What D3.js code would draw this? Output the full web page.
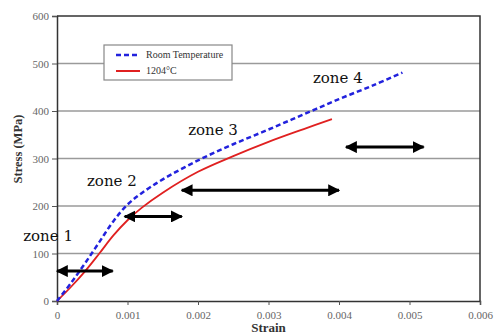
<!DOCTYPE html>
<html>
<head>
<meta charset="utf-8">
<script src="https://cdn.jsdelivr.net/npm/d3@7"></script>
<style>
  body { margin: 0; background: #fff; }
  svg { display: block; }
</style>
</head>
<body>
<div id="chart"></div>
<script>
"use strict";

// values
const roomStrain = [0, 0.0002, 0.0004, 0.0006, 0.0008, 0.001, 0.0012, 0.0015, 0.002, 0.0025, 0.003, 0.0035, 0.004, 0.0045, 0.0049];
const roomStress = [0, 38, 80, 124, 168, 203, 227, 256, 296, 330, 361, 393, 425, 455, 481];
const hotStrain  = [0, 0.0002, 0.0004, 0.0006, 0.0008, 0.001, 0.0012, 0.0015, 0.002, 0.0025, 0.003, 0.0035, 0.0039];
const hotStress  = [0, 30, 63, 100, 138, 170, 196, 228, 272, 305, 335, 362, 383];

const xTicks = [0, 0.001, 0.002, 0.003, 0.004, 0.005, 0.006];
const yTicks = [0, 100, 200, 300, 400, 500, 600];
const seriesNames = ["Room Temperature", "1204°C"];

// zone annotations: [strain, stress] of text start / arrow spans
const zoneLabels = ["zone 1", "zone 2", "zone 3", "zone 4"];
const zoneLabelAt = [[-0.00048, 126], [0.000425, 242], [0.00186, 349], [0.00363, 458]];
const arrowSpans = [[0, 0.00079, 63], [0.00096, 0.00177, 178], [0.00177, 0.004, 233], [0.0041, 0.0052, 324]];

const width = 494, height = 335;
const margin = { top: 16, right: 14, bottom: 34, left: 57 };

const svg = d3.select("#chart").append("svg")
    .attr("width", width)
    .attr("height", height);

const x = d3.scaleLinear().domain([0, 0.006]).range([margin.left, width - margin.right]);
const y = d3.scaleLinear().domain([0, 600]).range([height - margin.bottom, margin.top]);

const serif = "'Liberation Serif', 'Times New Roman', serif";

// grid lines
svg.append("g")
    .selectAll("line")
    .data(yTicks.slice(1, -1))
    .join("line")
    .attr("x1", x(0)).attr("x2", x(0.006))
    .attr("y1", d => y(d)).attr("y2", d => y(d))
    .attr("stroke", "#9a9a9a")
    .attr("stroke-width", 1.5);

// frame: top and right
svg.append("path")
    .attr("d", `M${x(0)},${y(600)}H${x(0.006)}V${y(0)}`)
    .attr("fill", "none")
    .attr("stroke", "#333")
    .attr("stroke-width", 1.5);

const xAxis = svg.append("g")
    .attr("transform", `translate(0,${y(0)})`)
    .call(d3.axisBottom(x).tickValues(xTicks).tickSize(4).tickPadding(6)
        .tickFormat(d => d === 0 ? "0" : d3.format(".3f")(d)));
const yAxis = svg.append("g")
    .attr("transform", `translate(${x(0)},0)`)
    .call(d3.axisLeft(y).tickValues(yTicks).tickSize(5).tickPadding(3));

[xAxis, yAxis].forEach(a => {
    a.select(".domain").attr("stroke", "#333").attr("stroke-width", 1.5);
    a.selectAll(".tick line").attr("stroke", "#555");
    a.selectAll(".tick text")
     .attr("fill", "#666")
     .style("font-family", serif)
     .style("font-size", "11px");
});

// axis titles
svg.append("text")
    .attr("x", x(0.003))
    .attr("y", height - 3)
    .attr("text-anchor", "middle")
    .style("font-family", serif)
    .style("font-weight", "bold")
    .style("font-size", "13px")
    .attr("fill", "#333")
    .text("Strain");
svg.append("text")
    .attr("transform", `translate(22,${y(320)}) rotate(-90)`)
    .attr("text-anchor", "middle")
    .style("font-family", serif)
    .style("font-weight", "bold")
    .style("font-size", "12.5px")
    .attr("fill", "#333")
    .text("Stress (MPa)");

// curves
const line = d3.line()
    .x(d => x(d[0]))
    .y(d => y(d[1]))
    .curve(d3.curveCatmullRom.alpha(0.5));

svg.append("path")
    .datum(hotStrain.map((s, i) => [s, hotStress[i]]))
    .attr("d", line)
    .attr("fill", "none")
    .attr("stroke", "#e02020")
    .attr("stroke-width", 1.8);

svg.append("path")
    .datum(roomStrain.map((s, i) => [s, roomStress[i]]))
    .attr("d", line)
    .attr("fill", "none")
    .attr("stroke", "#2222dd")
    .attr("stroke-width", 2.5)
    .attr("stroke-dasharray", "5,3");

// legend
const legend = svg.append("g").attr("transform", "translate(104,45)");
legend.append("rect")
    .attr("width", 128).attr("height", 35)
    .attr("fill", "#fff")
    .attr("stroke", "#888")
    .attr("stroke-width", 1.2);
const legendItems = legend.selectAll("g.item")
    .data(seriesNames)
    .join("g")
    .attr("class", "item")
    .attr("transform", (d, i) => `translate(0,${10 + i * 16})`);
legendItems.append("line")
    .attr("x1", 12).attr("x2", 36)
    .attr("stroke", (d, i) => i === 0 ? "#2222dd" : "#e02020")
    .attr("stroke-width", (d, i) => i === 0 ? 2.5 : 2)
    .attr("stroke-dasharray", (d, i) => i === 0 ? "5,3" : null);
legendItems.append("text")
    .attr("x", 42).attr("y", 3)
    .style("font-family", serif)
    .style("font-size", "10px")
    .attr("fill", "#333")
    .text(d => d);

// arrows
const defs = svg.append("defs");
defs.append("marker")
    .attr("id", "head")
    .attr("viewBox", "0 0 10 10")
    .attr("refX", 9).attr("refY", 5)
    .attr("markerWidth", 4).attr("markerHeight", 4)
    .attr("markerUnits", "strokeWidth")
    .attr("orient", "auto-start-reverse")
    .append("path")
    .attr("d", "M0,0L10,5L0,10Z")
    .attr("fill", "#000");

svg.append("g")
    .selectAll("line")
    .data(arrowSpans)
    .join("line")
    .attr("x1", d => x(d[0])).attr("x2", d => x(d[1]))
    .attr("y1", d => y(d[2])).attr("y2", d => y(d[2]))
    .attr("stroke", "#000")
    .attr("stroke-width", 3)
    .attr("marker-start", "url(#head)")
    .attr("marker-end", "url(#head)");

// zone labels
svg.append("g")
    .selectAll("text")
    .data(zoneLabels)
    .join("text")
    .attr("x", (d, i) => x(zoneLabelAt[i][0]))
    .attr("y", (d, i) => y(zoneLabelAt[i][1]))
    .style("font-family", "'DejaVu Serif', serif")
    .style("font-size", "15px")
    .attr("fill", "#111")
    .text(d => d);
</script>
</body>
</html>
